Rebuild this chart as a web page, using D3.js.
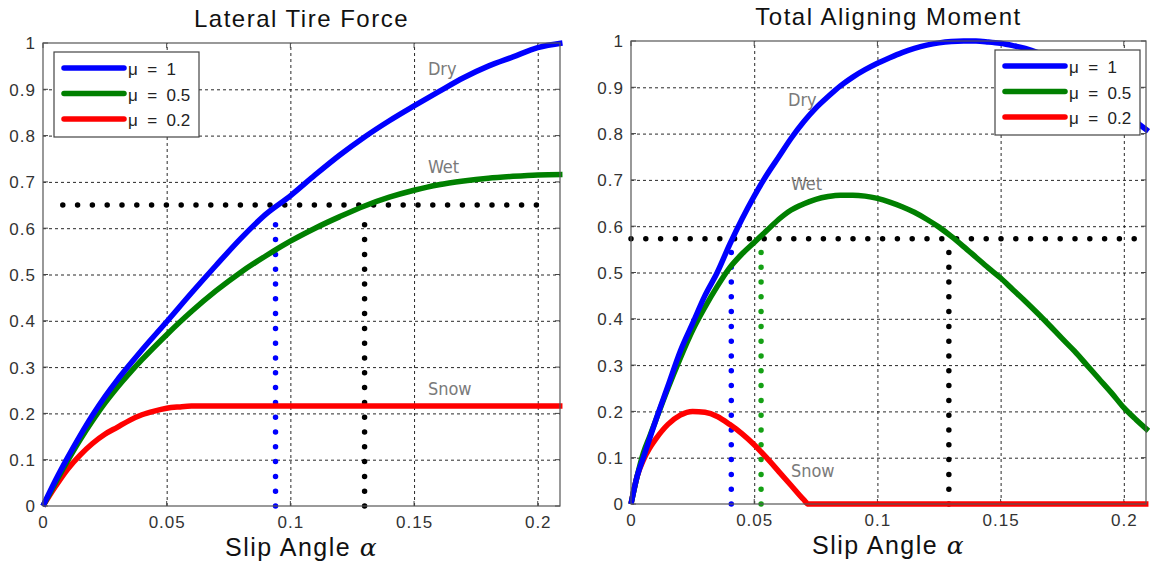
<!DOCTYPE html>
<html>
<head>
<meta charset="utf-8">
<script src="https://cdn.jsdelivr.net/npm/d3@7"></script>
<style>
body{margin:0;background:#fff;}
text{font-family:"Liberation Sans",Arial,sans-serif;}
.note{font-family:"Liberation Sans Narrow","DejaVu Sans Condensed","Arial Narrow",sans-serif;fill:#7a7a7a;font-size:18px;}
</style>
</head>
<body>
<div id="graph"></div>
<script>
// tick values / labels
var xTicks = [0, 0.05, 0.1, 0.15, 0.2];
var xTickLabels = ["0", "0.05", "0.1", "0.15", "0.2"];
var yTicks = [0, 0.1, 0.2, 0.3, 0.4, 0.5, 0.6, 0.7, 0.8, 0.9, 1];
var yTickLabels = ["0", "0.1", "0.2", "0.3", "0.4", "0.5", "0.6", "0.7", "0.8", "0.9", "1"];
var legendLabels = ["\u03bc  =  1", "\u03bc  =  0.5", "\u03bc  =  0.2"];
var titles = ["Lateral Tire Force", "Total Aligning Moment"];
var noteLabels = ["Dry", "Wet", "Snow"];

// lateral tire force (left)
var forceX   = [0, 0.005, 0.01, 0.015, 0.02, 0.025, 0.03, 0.035, 0.04, 0.05, 0.06, 0.07, 0.08, 0.09, 0.1, 0.11, 0.12, 0.13, 0.14, 0.15, 0.16, 0.17, 0.18, 0.19, 0.2, 0.21];
var forceDry = [0, 0.055, 0.105, 0.152, 0.196, 0.236, 0.272, 0.305, 0.337, 0.398, 0.46, 0.52, 0.578, 0.63, 0.67, 0.715, 0.758, 0.797, 0.832, 0.864, 0.895, 0.925, 0.95, 0.97, 0.99, 1.0];
var forceWet = [0, 0.05, 0.098, 0.143, 0.184, 0.222, 0.256, 0.287, 0.316, 0.37, 0.42, 0.465, 0.505, 0.54, 0.572, 0.6, 0.625, 0.648, 0.667, 0.682, 0.694, 0.702, 0.708, 0.712, 0.715, 0.716];
var forceSnowX = [0, 0.005, 0.01, 0.015, 0.02, 0.025, 0.03, 0.035, 0.04, 0.045, 0.05, 0.055, 0.06, 0.065, 0.1, 0.15, 0.21];
var forceSnow  = [0, 0.042, 0.08, 0.11, 0.135, 0.155, 0.17, 0.185, 0.197, 0.205, 0.211, 0.214, 0.216, 0.216, 0.216, 0.216, 0.216];
var forceLevel = 0.65;            // horizontal guide
var forceLevelSpan = [0.008, 0.2];
var forceGuideX = [0.094, 0.13];  // vertical guides (blue, black)
var forceGuideTop = [0.62, 0.62];
var forceNoteX = [0.1556, 0.1556, 0.1556];
var forceNoteY = [0.931, 0.719, 0.24];

// total aligning moment (right)
var momentX   = [0, 0.0025, 0.005, 0.0075, 0.01, 0.015, 0.02, 0.025, 0.03, 0.035, 0.04, 0.045, 0.05, 0.055, 0.06, 0.065, 0.07, 0.075, 0.08, 0.085, 0.09, 0.095, 0.1, 0.105, 0.11, 0.115, 0.12, 0.125, 0.13, 0.135, 0.14, 0.145, 0.15, 0.155, 0.16, 0.165, 0.17, 0.175, 0.18, 0.185, 0.19, 0.195, 0.2, 0.205, 0.21];
var momentDry = [0, 0.06, 0.1, 0.14, 0.18, 0.255, 0.33, 0.39, 0.45, 0.5, 0.56, 0.615, 0.665, 0.71, 0.75, 0.79, 0.825, 0.855, 0.88, 0.903, 0.922, 0.938, 0.952, 0.964, 0.975, 0.984, 0.991, 0.996, 0.999, 1.0, 1.0, 0.998, 0.995, 0.99, 0.984, 0.975, 0.963, 0.948, 0.93, 0.91, 0.89, 0.868, 0.845, 0.825, 0.805];
var momentWet = [0, 0.06, 0.11, 0.145, 0.18, 0.25, 0.315, 0.375, 0.425, 0.47, 0.51, 0.54, 0.565, 0.59, 0.615, 0.635, 0.648, 0.658, 0.664, 0.667, 0.667, 0.665, 0.66, 0.652, 0.642, 0.63, 0.615, 0.598, 0.578, 0.556, 0.533, 0.51, 0.488, 0.463, 0.438, 0.412, 0.385, 0.357, 0.33, 0.3, 0.27, 0.24, 0.208, 0.182, 0.158];
var momentSnowX = [0, 0.0025, 0.005, 0.0075, 0.01, 0.015, 0.02, 0.025, 0.03, 0.035, 0.04, 0.045, 0.05, 0.055, 0.06, 0.065, 0.07, 0.072, 0.1, 0.15, 0.21];
var momentSnow  = [0, 0.06, 0.095, 0.12, 0.14, 0.172, 0.192, 0.2, 0.198, 0.189, 0.172, 0.152, 0.128, 0.1, 0.07, 0.04, 0.01, 0, 0, 0, 0];
var momentLevel = 0.573;
var momentLevelSpan = [0, 0.209];
var momentGuideX = [0.0407, 0.0528, 0.129];  // blue, green, black
var momentGuideTop = [0.549, 0.549, 0.56];
var momentNoteX = [0.0637, 0.0649, 0.0649];
var momentNoteY = [0.86, 0.678, 0.058];

var curveColors = ["#0000ff", "#008000", "#ff0000"];

var svg = d3.select("#graph").append("svg").attr("width", 1150).attr("height", 566);

function zip(xs, ys){
	return xs.map(function(x, i){ return [x, ys[i]]; });
}

function drawPanel(p){
	var x = d3.scaleLinear().domain([0, 0.209]).range([p.left, p.right]);
	var y = d3.scaleLinear().domain([0, 1]).range([p.bottom, p.top]);
	var g = svg.append("g");
	var w = p.right - p.left, h = p.bottom - p.top;

	g.append("rect").attr("x", p.left).attr("y", p.top).attr("width", w).attr("height", h).attr("fill", "#fff");

	// dashed grid (axes with long ticks)
	var gx = g.append("g").attr("transform", "translate(0," + p.bottom + ")")
		.call(d3.axisBottom(x).tickValues(xTicks.slice(1)).tickSize(-h).tickFormat(""));
	var gy = g.append("g").attr("transform", "translate(" + p.left + ",0)")
		.call(d3.axisLeft(y).tickValues(yTicks.slice(1, -1)).tickSize(-w).tickFormat(""));
	[gx, gy].forEach(function(a){
		a.select(".domain").remove();
		a.selectAll("line").attr("stroke", "#111").attr("stroke-width", 0.9).attr("stroke-dasharray", "3,3");
	});

	// tick labels
	g.append("g").attr("transform", "translate(0," + p.bottom + ")")
		.call(d3.axisBottom(x).tickValues(xTicks).tickSize(0).tickPadding(0).tickFormat(function(d, i){ return xTickLabels[i]; }))
		.call(function(a){
			a.select(".domain").remove();
			a.selectAll("text").attr("dy", null).attr("y", 22).attr("font-size", 17).attr("fill", "#333")
				.attr("font-family", null).style("letter-spacing", "1px");
		});
	g.append("g").attr("transform", "translate(" + p.left + ",0)")
		.call(d3.axisLeft(y).tickValues(yTicks).tickSize(0).tickPadding(7).tickFormat(function(d, i){ return yTickLabels[i]; }))
		.call(function(a){
			a.select(".domain").remove();
			a.selectAll("text").attr("dy", "0.35em").attr("font-size", 17).attr("fill", "#333")
				.attr("font-family", null).style("letter-spacing", "1px");
		});

	// inner ticks
	var tk = g.append("g").attr("stroke", "#444").attr("stroke-width", 1);
	xTicks.forEach(function(t){
		tk.append("line").attr("x1", x(t)).attr("x2", x(t)).attr("y1", p.bottom).attr("y2", p.bottom - 5);
		tk.append("line").attr("x1", x(t)).attr("x2", x(t)).attr("y1", p.top).attr("y2", p.top + 5);
	});
	yTicks.forEach(function(t){
		tk.append("line").attr("x1", p.left).attr("x2", p.left + 5).attr("y1", y(t)).attr("y2", y(t));
		tk.append("line").attr("x1", p.right).attr("x2", p.right - 5).attr("y1", y(t)).attr("y2", y(t));
	});

	var line = d3.line().x(function(d){ return x(d[0]); }).y(function(d){ return y(d[1]); }).curve(d3.curveMonotoneX);

	// dotted guides
	var dots = g.append("g").attr("fill", "none").attr("stroke-width", 5.5)
		.attr("stroke-linecap", "round").attr("stroke-dasharray", "0 14.8");
	dots.append("path").attr("stroke", "#000")
		.attr("d", d3.line()([[x(p.levelSpan[0]), y(p.level)], [x(p.levelSpan[1]), y(p.level)]]));
	p.guideX.forEach(function(gxv, i){
		dots.append("path").attr("stroke", p.guideColors[i])
			.attr("d", d3.line()([[x(gxv), y(0)], [x(gxv), y(p.guideTop[i])]]));
	});

	// curves, snow first so dry sits on top
	for (var i = p.series.length - 1; i >= 0; i--) {
		g.append("path").attr("fill", "none").attr("stroke", curveColors[i]).attr("stroke-width", 5.5)
			.attr("stroke-linejoin", "round").attr("d", line(p.series[i]));
	}

	// curve notes
	noteLabels.forEach(function(t, i){
		g.append("text").attr("class", "note").attr("x", x(p.noteX[i])).attr("y", y(p.noteY[i])).text(t);
	});

	// box
	g.append("rect").attr("x", p.left).attr("y", p.top).attr("width", w).attr("height", h)
		.attr("fill", "none").attr("stroke", "#555").attr("stroke-width", 1.2);

	// legend
	var lg = g.append("g").attr("transform", "translate(" + p.legend[0] + "," + p.legend[1] + ")");
	lg.append("rect").attr("width", 145).attr("height", 85).attr("fill", "#fff").attr("stroke", "#444").attr("stroke-width", 1.2);
	legendLabels.forEach(function(t, i){
		var ly = 16 + i * 25.5;
		lg.append("line").attr("x1", 10).attr("x2", 70).attr("y1", ly).attr("y2", ly)
			.attr("stroke", curveColors[i]).attr("stroke-width", 5.5).attr("stroke-linecap", "round");
		lg.append("text").attr("x", 74).attr("y", ly + 7).attr("font-size", 17).attr("fill", "#222")
			.style("white-space", "pre").text(t);
	});

	// titles
	var cx = (p.left + p.right) / 2;
	g.append("text").attr("x", cx).attr("y", p.top - 16).attr("text-anchor", "middle")
		.attr("font-size", 24).attr("fill", "#111").style("letter-spacing", "1.5px").text(p.title);
	var xl = g.append("text").attr("x", cx).attr("y", p.bottom + 50).attr("text-anchor", "middle")
		.attr("font-size", 25).attr("fill", "#111").style("letter-spacing", "1.5px");
	xl.append("tspan").text("Slip Angle ");
	xl.append("tspan").attr("font-style", "italic").attr("font-family", "'DejaVu Serif',serif").text("\u03b1");
}

drawPanel({
	left: 43, right: 560, top: 43, bottom: 506,
	title: titles[0],
	series: [zip(forceX, forceDry), zip(forceX, forceWet), zip(forceSnowX, forceSnow)],
	level: forceLevel, levelSpan: forceLevelSpan,
	guideX: forceGuideX, guideTop: forceGuideTop, guideColors: ["#0000ff", "#000"],
	noteX: forceNoteX, noteY: forceNoteY,
	legend: [54, 52]
});

drawPanel({
	left: 631, right: 1146, top: 41, bottom: 504,
	title: titles[1],
	series: [zip(momentX, momentDry), zip(momentX, momentWet), zip(momentSnowX, momentSnow)],
	level: momentLevel, levelSpan: momentLevelSpan,
	guideX: momentGuideX, guideTop: momentGuideTop, guideColors: ["#0000ff", "#14a014", "#000"],
	noteX: momentNoteX, noteY: momentNoteY,
	legend: [995, 50]
});
</script>
</body>
</html>
